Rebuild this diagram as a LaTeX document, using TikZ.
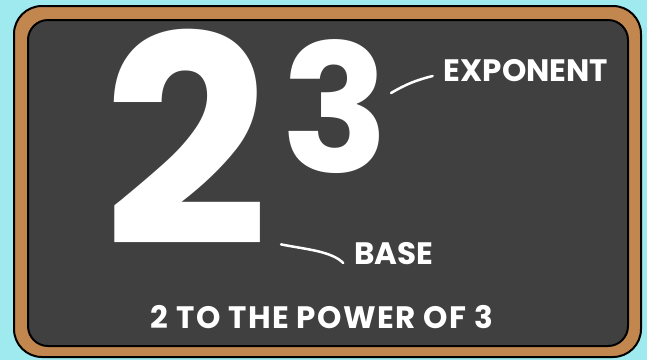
\documentclass[tikz,border=0pt]{standalone}
\usepackage{fontspec}
\setmainfont{Poppins}
\usetikzlibrary{positioning,calc}
\definecolor{sky}{HTML}{9EEAEE}
\definecolor{wood}{HTML}{C2874F}
\definecolor{slate}{HTML}{404040}

\begin{document}
\begin{tikzpicture}[
  x=1pt, y=-1pt,
  frame/.style={draw=black, line width=2pt, rounded corners=28pt, fill=wood},
  board/.style={draw=black, line width=2pt, rounded corners=20pt, fill=slate},
  digit/.style={text=white, inner sep=0pt, font=\bfseries\fontsize{#1}{#1}\selectfont},
  tag/.style={text=white, inner sep=0pt, font=\bfseries\fontsize{31}{31}\selectfont},
  chalk/.style={draw=white, line width=2.5pt, line cap=round},
]
\useasboundingbox[fill=sky] (0,0) rectangle (647,360);
% chalkboard
\draw[frame] (14,6) rectangle (641,357);
\draw[board] (28,20) rectangle (628,346);

\node[digit=290] (base) at (186,137) {2};
\node[digit=178] (expo) at (335,107) {3};
\node[tag] (expotag) at (526,71) {EXPONENT};
\node[tag] (basetag) at (394,254) {BASE};
\node[tag] (reading) at (322,317) {\addfontfeature{LetterSpace=4.5}2 TO THE POWER OF 3};

\draw[chalk] ($(expo.east)+(2,-14)$) to[bend left=8] ($(expotag.west)+(-11,5)$);
\draw[chalk] ($(base.south east)+(12,-1)$) .. controls +(25,5) and +(-12,-12) .. ($(basetag.west)+(-11,9)$);
\end{tikzpicture}
\end{document}
